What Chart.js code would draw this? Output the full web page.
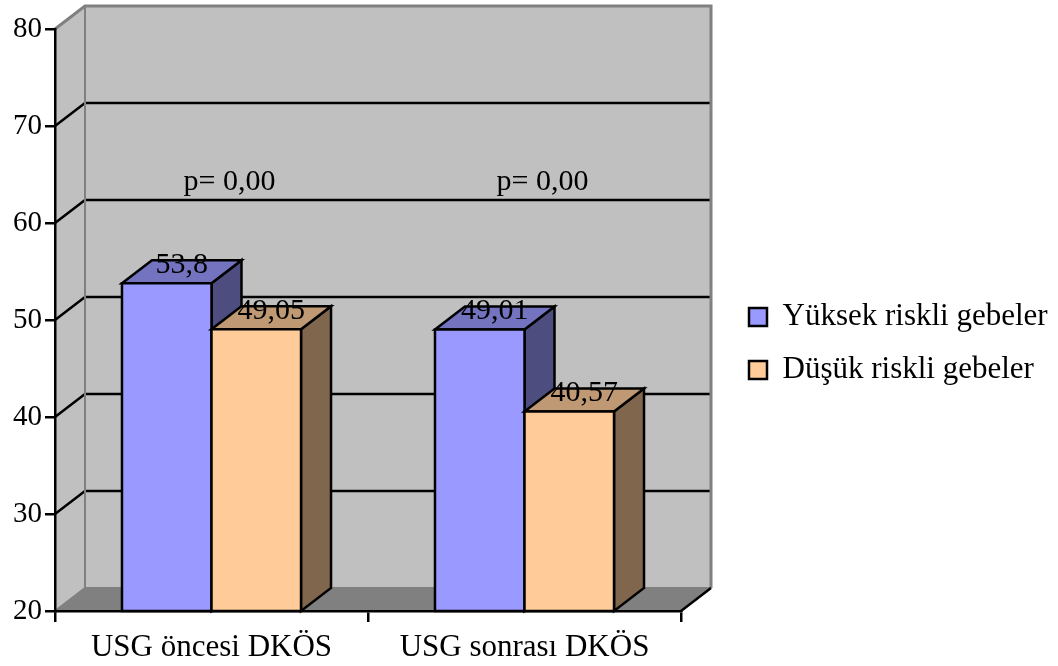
<!DOCTYPE html>
<html>
<head>
<meta charset="utf-8">
<script src="https://cdn.jsdelivr.net/npm/chart.js@4/dist/chart.umd.min.js"></script>
<style>
html,body{margin:0;padding:0;background:#fff;}
canvas{display:block;}
</style>
</head>
<body>
<canvas id="c" width="1058" height="666"></canvas>
<script>
// ---- data ----
const categories = ['USG öncesi DKÖS', 'USG sonrası DKÖS'];
const seriesNames = ['Yüksek riskli gebeler', 'Düşük riskli gebeler'];
const highRisk = [53.8, 49.01];
const lowRisk = [49.05, 40.57];
const pLabels = ['p= 0,00', 'p= 0,00'];
const yMin = 20, yMax = 80, yStep = 10;

// ---- style ----
const FONT = '"Liberation Serif", "Times New Roman", serif';
const DX = 30, DY = -23;           // 3D depth offset
const WALL = '#c0c0c0', FLOOR = '#808080', WALL_EDGE = '#808080';
const frontColors = ['#9999ff', '#ffcc99'];
const topColors = ['#7373bf', '#bf9973'];
const sideColors = ['#4d4d80', '#80664d'];
const P_LEVEL = 64.2;
const LEG_FONT = 31, LEG_PAD = 22, LEG_BOX = 18;
const LW = 2.5;

// measure legend width so that the legend starts where the reference does
const mctx = document.createElement('canvas').getContext('2d');
mctx.font = LEG_FONT + 'px ' + FONT;
const tw = Math.max(...seriesNames.map(s => mctx.measureText(s).width));
const legendWidth = LEG_PAD + LEG_BOX + LEG_FONT / 2 + tw + 10;
const legendLeft = 749 - LEG_PAD;
const padRight = Math.max(0, 1058 - legendLeft - legendWidth);

Chart.defaults.font.family = FONT;
Chart.defaults.color = '#000';

const fmt = v => String(v).replace('.', ',');

const threeD = {
  id: 'threeD',
  beforeDraw(chart) {
    const ctx = chart.ctx, ca = chart.chartArea, y = chart.scales.y;
    const yT = y.getPixelForValue(yMax), yB = y.getPixelForValue(yMin);
    const L = ca.left, R = ca.right;
    ctx.save();
    // side wall
    ctx.fillStyle = WALL;
    ctx.beginPath();
    ctx.moveTo(L, yT); ctx.lineTo(L + DX, yT + DY); ctx.lineTo(L + DX, yB + DY); ctx.lineTo(L, yB);
    ctx.closePath(); ctx.fill();
    // back wall
    ctx.fillRect(L + DX, yT + DY, R - L, yB - yT);
    // floor
    ctx.fillStyle = FLOOR;
    ctx.beginPath();
    ctx.moveTo(L, yB); ctx.lineTo(L + DX, yB + DY); ctx.lineTo(R + DX, yB + DY); ctx.lineTo(R, yB);
    ctx.closePath(); ctx.fill();
    // gridlines
    ctx.strokeStyle = '#000'; ctx.lineWidth = LW;
    y.ticks.forEach(t => {
      if (t.value <= yMin || t.value >= yMax) return;
      const p = y.getPixelForValue(t.value);
      ctx.beginPath();
      ctx.moveTo(L, p); ctx.lineTo(L + DX, p + DY); ctx.lineTo(R + DX, p + DY);
      ctx.stroke();
    });
    // wall edges
    ctx.strokeStyle = WALL_EDGE;
    ctx.lineWidth = 3;
    ctx.beginPath();
    ctx.moveTo(L, yT); ctx.lineTo(L + DX, yT + DY); ctx.lineTo(R + DX, yT + DY); ctx.lineTo(R + DX, yB + DY);
    ctx.stroke();
    ctx.lineWidth = 2;
    ctx.beginPath();
    ctx.moveTo(L + DX, yT + DY); ctx.lineTo(L + DX, yB + DY);
    ctx.moveTo(L, yB); ctx.lineTo(L + DX, yB + DY); ctx.lineTo(R + DX, yB + DY);
    ctx.stroke();
    ctx.strokeStyle = '#000';
    ctx.lineWidth = LW;
    ctx.beginPath();
    ctx.moveTo(R, yB); ctx.lineTo(R + DX, yB + DY);
    ctx.stroke();
    ctx.restore();
  },
  beforeDatasetDraw() { return false; },
  afterDatasetsDraw(chart) {
    const ctx = chart.ctx, x = chart.scales.x, y = chart.scales.y;
    const floorPx = y.getPixelForValue(yMin);
    ctx.save();
    ctx.lineWidth = LW; ctx.strokeStyle = '#000'; ctx.lineJoin = 'miter';
    const n = chart.data.labels.length;
    for (let i = 0; i < n; i++) {
      chart.data.datasets.forEach((ds, d) => {
        const bar = chart.getDatasetMeta(d).data[i];
        const L = bar.x - bar.width / 2, R = bar.x + bar.width / 2, T = bar.y, B = Math.min(bar.base, floorPx);
        // side
        ctx.fillStyle = sideColors[d];
        ctx.beginPath();
        ctx.moveTo(R, T); ctx.lineTo(R + DX, T + DY); ctx.lineTo(R + DX, B + DY); ctx.lineTo(R, B);
        ctx.closePath(); ctx.fill(); ctx.stroke();
        // top
        ctx.fillStyle = topColors[d];
        ctx.beginPath();
        ctx.moveTo(L, T); ctx.lineTo(L + DX, T + DY); ctx.lineTo(R + DX, T + DY); ctx.lineTo(R, T);
        ctx.closePath(); ctx.fill(); ctx.stroke();
        // front
        ctx.fillStyle = frontColors[d];
        ctx.beginPath();
        ctx.rect(L, T, R - L, B - T);
        ctx.fill(); ctx.stroke();
      });
    }
    // value labels
    ctx.fillStyle = '#000';
    ctx.font = '30px ' + FONT;
    ctx.textAlign = 'center'; ctx.textBaseline = 'alphabetic';
    chart.data.datasets.forEach((ds, d) => {
      chart.getDatasetMeta(d).data.forEach((bar, i) => {
        ctx.fillText(fmt(ds.data[i]), bar.x + DX / 2, bar.y + DY / 2 + 1);
      });
    });
    // p labels
    ctx.textBaseline = 'middle';
    pLabels.forEach((t, i) => {
      ctx.fillText(t, x.getPixelForValue(i) + 18, y.getPixelForValue(P_LEVEL));
    });
    ctx.restore();
  }
};

new Chart(document.getElementById('c'), {
  type: 'bar',
  data: {
    labels: categories,
    datasets: [
      { label: seriesNames[0], data: highRisk, backgroundColor: frontColors[0], borderColor: '#000', borderWidth: 2.5 },
      { label: seriesNames[1], data: lowRisk, backgroundColor: frontColors[1], borderColor: '#000', borderWidth: 2.5 }
    ]
  },
  options: {
    responsive: false,
    animation: false,
    devicePixelRatio: 1,
    layout: { padding: { top: 29, left: 0, right: padRight, bottom: 8 } },
    datasets: { bar: { categoryPercentage: 0.572, barPercentage: 1 } },
    plugins: {
      tooltip: { enabled: false },
      legend: {
        position: 'right',
        maxWidth: 600,
        labels: {
          font: { size: LEG_FONT, family: FONT },
          color: '#000',
          padding: LEG_PAD,
          boxWidth: LEG_BOX,
          boxHeight: LEG_BOX
        }
      }
    },
    scales: {
      x: {
        grid: { offset: true, drawOnChartArea: false, color: '#000', lineWidth: LW, tickLength: 11 },
        border: { display: true, color: '#000', width: LW },
        ticks: { font: { size: 31, family: FONT }, color: '#000', padding: 7 },
        afterFit(s) { s.height = 47; }
      },
      y: {
        min: yMin, max: yMax,
        ticks: { stepSize: yStep, font: { size: 29, family: FONT }, color: '#000', padding: 3 },
        grid: { drawOnChartArea: false, color: '#000', lineWidth: LW, tickLength: 10 },
        border: { display: true, color: '#000', width: LW },
        afterFit(s) { s.width = 55; }
      },
      y2: {
        position: 'right',
        display: true,
        grid: { display: false },
        border: { display: false },
        ticks: { display: false },
        afterFit(s) { s.width = legendLeft - 681; }
      }
    }
  },
  plugins: [threeD]
});
</script>
</body>
</html>
